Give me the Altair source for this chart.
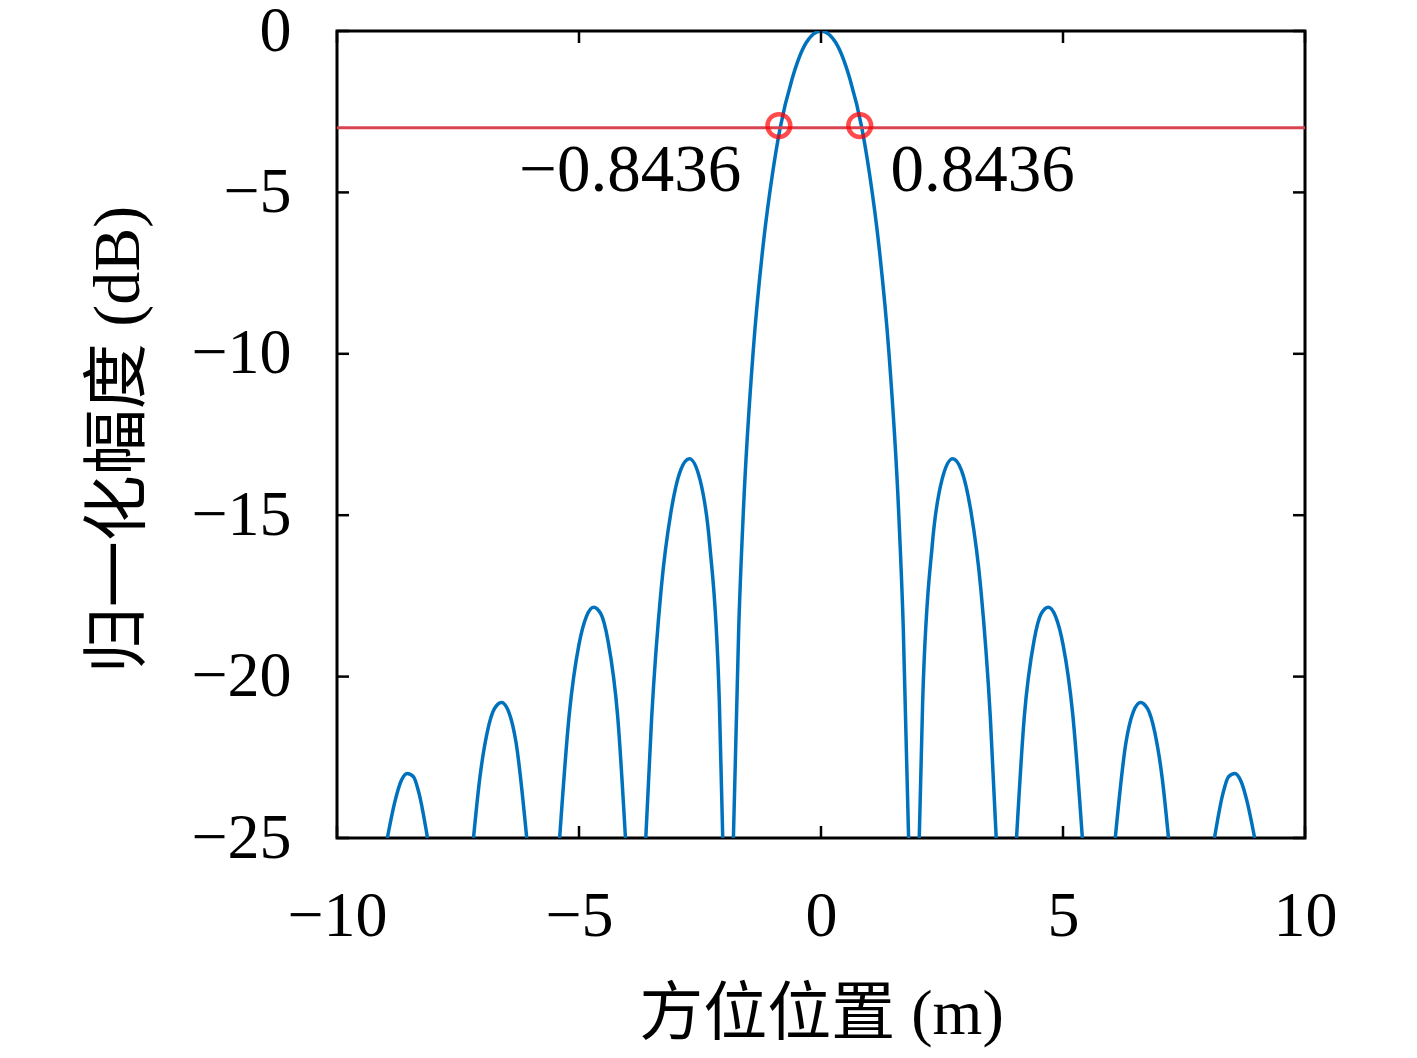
import altair as alt
import pandas as pd

# ---- data ----
# main lobe
main_x = [-1.81, -1.7, -1.6, -1.4, -1.2, -1.0, -0.8436, -0.6, -0.3, 0.0,
          0.3, 0.6, 0.8436, 1.0, 1.2, 1.4, 1.6, 1.7, 1.81]
main_y = [-25.0, -18.5, -14.75, -9.9, -6.7, -4.4, -3.0, -1.5, -0.35, 0.0,
          -0.35, -1.5, -3.0, -4.4, -6.7, -9.9, -14.75, -18.5, -25.0]
# first side lobes
sl1r_x = [2.03, 2.1, 2.3, 2.5, 2.72, 2.9, 3.1, 3.3, 3.5, 3.62]
sl1r_y = [-25.0, -20.8, -15.9, -13.9, -13.25, -13.6, -14.9, -17.25, -21.3, -25.0]
sl1l_x = [-3.62, -3.5, -3.3, -3.1, -2.9, -2.72, -2.5, -2.3, -2.1, -2.03]
sl1l_y = [-25.0, -21.3, -17.25, -14.9, -13.6, -13.25, -13.9, -15.9, -20.8, -25.0]
# second side lobes
sl2r_x = [4.04, 4.2, 4.4, 4.55, 4.7, 4.85, 5.0, 5.2, 5.4]
sl2r_y = [-25.0, -21.25, -18.9, -18.05, -17.85, -18.15, -19.0, -21.15, -25.0]
sl2l_x = [-5.4, -5.2, -5.0, -4.85, -4.7, -4.55, -4.4, -4.2, -4.04]
sl2l_y = [-25.0, -21.15, -19.0, -18.15, -17.85, -18.05, -18.9, -21.25, -25.0]
# third side lobes
sl3r_x = [6.08, 6.3, 6.45, 6.6, 6.75, 6.9, 7.05, 7.18]
sl3r_y = [-25.0, -22.05, -21.1, -20.8, -21.0, -21.75, -23.15, -25.0]
sl3l_x = [-7.18, -7.05, -6.9, -6.75, -6.6, -6.45, -6.3, -6.08]
sl3l_y = [-25.0, -23.15, -21.75, -21.0, -20.8, -21.1, -22.05, -25.0]
# fourth side lobes
sl4r_x = [8.13, 8.3, 8.42, 8.55, 8.68, 8.8, 8.96]
sl4r_y = [-25.0, -23.65, -23.1, -23.0, -23.25, -23.85, -25.0]
sl4l_x = [-8.96, -8.8, -8.68, -8.55, -8.42, -8.3, -8.13]
sl4l_y = [-25.0, -23.85, -23.25, -23.0, -23.1, -23.65, -25.0]

# -3 dB markers and labels
mark_x = [-0.87, 0.80]
mark_y = [-2.93, -2.93]
label_text = ["\u22120.8436", "0.8436"]
label_x = [-3.94, 3.34]
label_y = [-4.35, -4.35]
level_db = -3.0

x_ticks = [-10, -5, 0, 5, 10]
y_ticks = [0, -5, -10, -15, -20, -25]

x_title = "方位位置 (m)"
y_title = "归一化幅度 (dB)"

# ---- build tables ----
lobes = [
    ("main", main_x, main_y), ("s1r", sl1r_x, sl1r_y), ("s1l", sl1l_x, sl1l_y),
    ("s2r", sl2r_x, sl2r_y), ("s2l", sl2l_x, sl2l_y), ("s3r", sl3r_x, sl3r_y),
    ("s3l", sl3l_x, sl3l_y), ("s4r", sl4r_x, sl4r_y), ("s4l", sl4l_x, sl4l_y),
]
rows = []
for name, xs, ys in lobes:
    for i, (a, b) in enumerate(zip(xs, ys)):
        rows.append({"lobe": name, "i": i, "x": a, "y": b})
curve = pd.DataFrame(rows)
markers = pd.DataFrame({"x": mark_x, "y": mark_y})
labels = pd.DataFrame({"x": label_x, "y": label_y, "t": label_text})
xt = pd.DataFrame({"v": x_ticks})
yt = pd.DataFrame({"v": y_ticks})

W, H = 968, 807
FONT = "Liberation Serif, Noto Sans CJK SC"
NUMFONT = "Liberation Serif"

xscale = alt.Scale(domain=[-10, 10], nice=False, zero=False)
yscale = alt.Scale(domain=[-25, 0], nice=False, zero=False)

xaxis = alt.Axis(values=x_ticks, ticks=False, domain=False, grid=False,
                 labelFont=NUMFONT, labelFontSize=64, labelColor="black",
                 labelPadding=46, labelFlush=False,
                 labelExpr="replace(datum.label, '-', '\u2212')",
                 title=x_title, titleFont=FONT, titleFontSize=64,
                 titleFontWeight="normal", titleColor="black",
                 titleY=176, titleBaseline="middle")
yaxis = alt.Axis(values=y_ticks, ticks=False, domain=False, grid=False,
                 labelFont=NUMFONT, labelFontSize=64, labelColor="black",
                 labelPadding=46, labelFlush=False,
                 labelExpr="replace(datum.label, '-', '\u2212')",
                 title=y_title, titleFont=FONT, titleFontSize=66,
                 titleFontWeight="normal", titleColor="black",
                 titleX=-219, titleY=408, titleBaseline="middle", titleAngle=-90)

line = alt.Chart(curve).mark_line(color="#0072BD", strokeWidth=3.5, interpolate="monotone", clip=True).encode(
    x=alt.X("x:Q", scale=xscale, axis=xaxis),
    y=alt.Y("y:Q", scale=yscale, axis=yaxis),
    detail="lobe:N",
    order="i:Q",
)

level = alt.Chart(pd.DataFrame({"y": [level_db]})).mark_rule(color="#d9434f", strokeWidth=3).encode(
    y=alt.Y("y:Q", scale=yscale)
)

circles = alt.Chart(markers).mark_point(shape="circle", size=520, filled=False,
                                        color="#ff0000", strokeWidth=4.5).encode(
    x=alt.X("x:Q", scale=xscale), y=alt.Y("y:Q", scale=yscale)
)

texts = alt.Chart(labels).mark_text(font=NUMFONT, fontSize=67, color="black",
                                    align="center", baseline="middle").encode(
    x=alt.X("x:Q", scale=xscale), y=alt.Y("y:Q", scale=yscale), text="t:N"
)

TL = 12
tick_b = alt.Chart(xt).mark_rule(color="black", strokeWidth=2.5).encode(
    x=alt.X("v:Q", scale=xscale), y=alt.value(H), y2=alt.value(H - TL))
tick_t = alt.Chart(xt).mark_rule(color="black", strokeWidth=2.5).encode(
    x=alt.X("v:Q", scale=xscale), y=alt.value(0), y2=alt.value(TL))
tick_l = alt.Chart(yt).mark_rule(color="black", strokeWidth=2.5).encode(
    y=alt.Y("v:Q", scale=yscale), x=alt.value(0), x2=alt.value(TL))
tick_r = alt.Chart(yt).mark_rule(color="black", strokeWidth=2.5).encode(
    y=alt.Y("v:Q", scale=yscale), x=alt.value(W), x2=alt.value(W - TL))

chart = alt.layer(line, level, circles, texts, tick_b, tick_t, tick_l, tick_r).properties(
    width=W, height=H,
    autosize=alt.AutoSizeParams(type="none"),
    padding={"left": 329, "top": 23, "right": 100, "bottom": 210},
    background="white",
).configure_view(stroke="black", strokeWidth=3)

chart.save("out.html", embed_options={"renderer": "svg", "actions": False})
